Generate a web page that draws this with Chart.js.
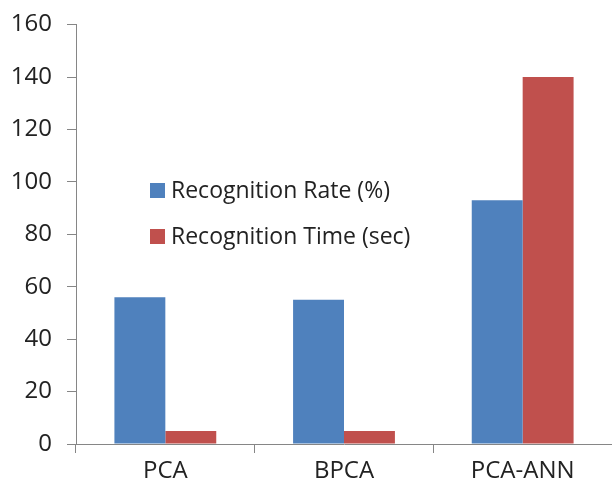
<!DOCTYPE html>
<html>
<head>
<meta charset="utf-8">
<script src="https://cdn.jsdelivr.net/npm/chart.js@4/dist/chart.umd.min.js"></script>
<style>
  html, body { margin: 0; padding: 0; background: #fff; }
  #wrap { width: 612px; height: 490px; }
</style>
</head>
<body>
<div id="wrap"><canvas id="Chart" width="612" height="490"></canvas></div>
<script>
const categories = ['PCA', 'BPCA', 'PCA-ANN'];
const rateValues = [56, 55, 93];
const timeValues = [5, 5, 140];
const seriesNames = ['Recognition Rate (%)', 'Recognition Time (sec)'];
const yTicks = [0, 20, 40, 60, 80, 100, 120, 140, 160];

const axisColor = '#868686';
const fontFamily = "'Open Sans', 'Noto Sans', sans-serif";

// legend sits inside the plot, drawn by hand
const innerLegend = {
  id: 'innerLegend',
  afterDraw(chart) {
    const c = chart.ctx;
    c.save();
    c.font = '23px ' + fontFamily;
    c.textBaseline = 'middle';
    chart.data.datasets.forEach((ds, i) => {
      const y = 190 + i * 46;
      c.fillStyle = ds.backgroundColor;
      c.fillRect(150, y - 7, 15, 15);
      c.fillStyle = '#222';
      c.fillText(ds.label, 171, y + 1);
    });
    c.restore();
  }
};

new Chart(document.getElementById('Chart').getContext('2d'), {
  type: 'bar',
  data: {
    labels: categories,
    datasets: [
      { label: seriesNames[0], data: rateValues, backgroundColor: '#4F81BD' },
      { label: seriesNames[1], data: timeValues, backgroundColor: '#C0504D' }
    ]
  },
  options: {
    responsive: false,
    animation: false,
    layout: { padding: { top: 0, right: 0, bottom: 0, left: 0 } },
    datasets: { bar: { categoryPercentage: 0.57, barPercentage: 1 } },
    plugins: { legend: { display: false }, tooltip: { enabled: false } },
    scales: {
      x: {
        grid: { offset: true, drawOnChartArea: false, drawTicks: true, tickLength: 9, color: axisColor },
        border: { display: true, color: axisColor, width: 1 },
        ticks: { color: '#222', font: { size: 24, family: fontFamily }, padding: 4 },
        afterFit: s => { s.height = 46; }
      },
      y: {
        min: 0,
        max: 160,
        afterBuildTicks: s => { s.ticks = yTicks.map(v => ({ value: v })); },
        grid: { drawOnChartArea: false, drawTicks: true, tickLength: 9, color: axisColor },
        border: { display: true, color: axisColor, width: 1 },
        ticks: { color: '#222', font: { size: 24, family: fontFamily, lineHeight: 0.8 }, padding: 15 },
        afterFit: s => { s.width = 76; }
      }
    }
  },
  plugins: [innerLegend]
});
</script>
</body>
</html>
